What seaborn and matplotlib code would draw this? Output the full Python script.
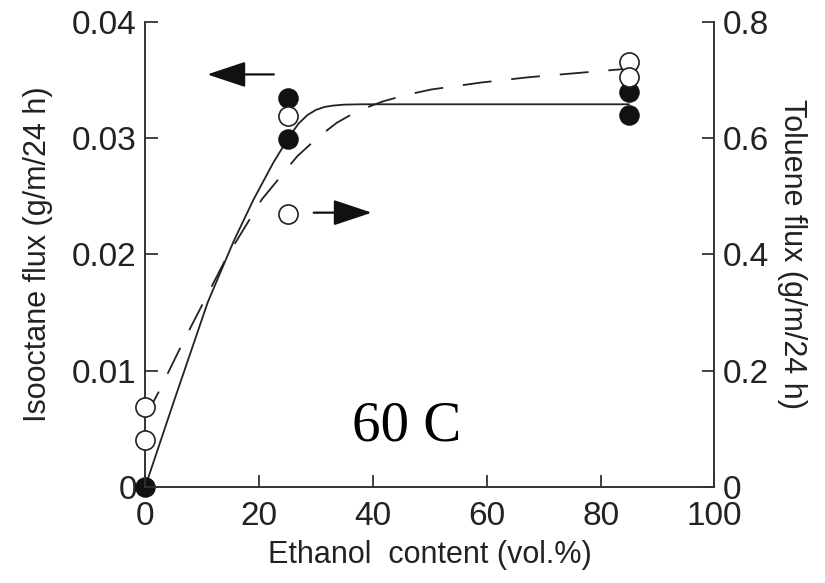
import numpy as np
import pandas as pd
import matplotlib
matplotlib.use("Agg")
import matplotlib.pyplot as plt
import seaborn as sns

# Measured data
iso_x = [0, 25, 25, 85, 85]
iso_y = [0.0, 0.0335, 0.0299, 0.0340, 0.0320]
tol_x = [0, 0, 25, 25, 85, 85]
tol_y = [0.138, 0.081, 0.638, 0.469, 0.731, 0.705]

# Fitted curves
iso_fit_x = [0, 5, 11, 15.5, 19, 22.5, 25.5, 27, 28.5, 30, 31.5, 33, 35, 38, 45, 85]
iso_fit_y = [0.0, 0.0073, 0.0159, 0.0211, 0.0247, 0.0279, 0.0303, 0.0313, 0.0320, 0.03245,
             0.0327, 0.03282, 0.0329, 0.03293, 0.03293, 0.03293]
tol_fit_x = [0, 2.3, 6.7, 14.4, 20.5, 26.7, 30.5, 33.7, 37.5, 41.9, 46, 50.2, 59, 67.2, 75.4, 85]
tol_fit_y = [0.12, 0.162, 0.25, 0.397, 0.495, 0.569, 0.603, 0.627, 0.648, 0.664, 0.675,
             0.684, 0.696, 0.705, 0.712, 0.72]

sns.set_style("ticks")
plt.rcParams['font.family'] = ['Liberation Sans', 'DejaVu Sans']
plt.rcParams['xtick.direction'] = 'in'
plt.rcParams['ytick.direction'] = 'in'

fig = plt.figure(figsize=(8.25, 5.83), dpi=100)
ax = fig.add_axes([0.176, 0.165, 0.690, 0.797])
ax2 = ax.twinx()

sns.lineplot(x=iso_fit_x, y=iso_fit_y, ax=ax, color='#222222', lw=1.3, sort=False)
sns.lineplot(x=tol_fit_x, y=tol_fit_y, ax=ax2, color='#222222', lw=1.3, sort=False)
ax2.lines[0].set_linestyle((0, (16, 11)))

sns.scatterplot(x=iso_x, y=iso_y, ax=ax, color='#111111', s=190, edgecolor='#111111',
                linewidth=1.0, zorder=5, clip_on=False)
sns.scatterplot(x=tol_x, y=tol_y, ax=ax2, facecolor='white', s=190, edgecolor='#222222',
                linewidth=1.2, zorder=5, clip_on=False)

ax.set_xlim(0, 100)
ax.set_ylim(0, 0.04)
ax2.set_ylim(0, 0.8)
ax.set_xticks([0, 20, 40, 60, 80, 100])
ax.set_yticks([0, 0.01, 0.02, 0.03, 0.04])
ax.set_yticklabels(['0', '0.01', '0.02', '0.03', '0.04'])
ax2.set_yticks([0, 0.2, 0.4, 0.6, 0.8])
ax2.set_yticklabels(['0', '0.2', '0.4', '0.6', '0.8'])

for a in (ax, ax2):
    a.spines['top'].set_visible(False)
    for s in a.spines.values():
        s.set_linewidth(1.2)
        s.set_color('#333333')
    a.tick_params(direction='in', length=9, width=1.2, labelsize=24, colors='#222222', pad=6)
ax.tick_params(axis='x', pad=10)

ax.set_xlabel('Ethanol  content (vol.%)', fontsize=22, color='#222222', labelpad=6)
ax.set_ylabel('Isooctane flux (g/m/24 h)', fontsize=22, color='#222222', labelpad=14)
ax2.set_ylabel('Toluene flux (g/m/24 h)', fontsize=22, color='#222222', rotation=270, labelpad=27)

arrow_kw = dict(arrowstyle='-|>,head_length=1.2,head_width=0.4', color='#111111', lw=1.6,
                mutation_scale=20, shrinkA=0, shrinkB=0)
ax.annotate('', xy=(10.9, 0.0355), xytext=(22.6, 0.0355), arrowprops=arrow_kw)
ax.annotate('', xy=(39.8, 0.0236), xytext=(29.6, 0.0236), arrowprops=arrow_kw)

ax.text(46, 0.0052, '60 C', fontsize=41, family='Liberation Serif', ha='center', va='center', color='black')

fig.savefig('out.png', dpi=100)
